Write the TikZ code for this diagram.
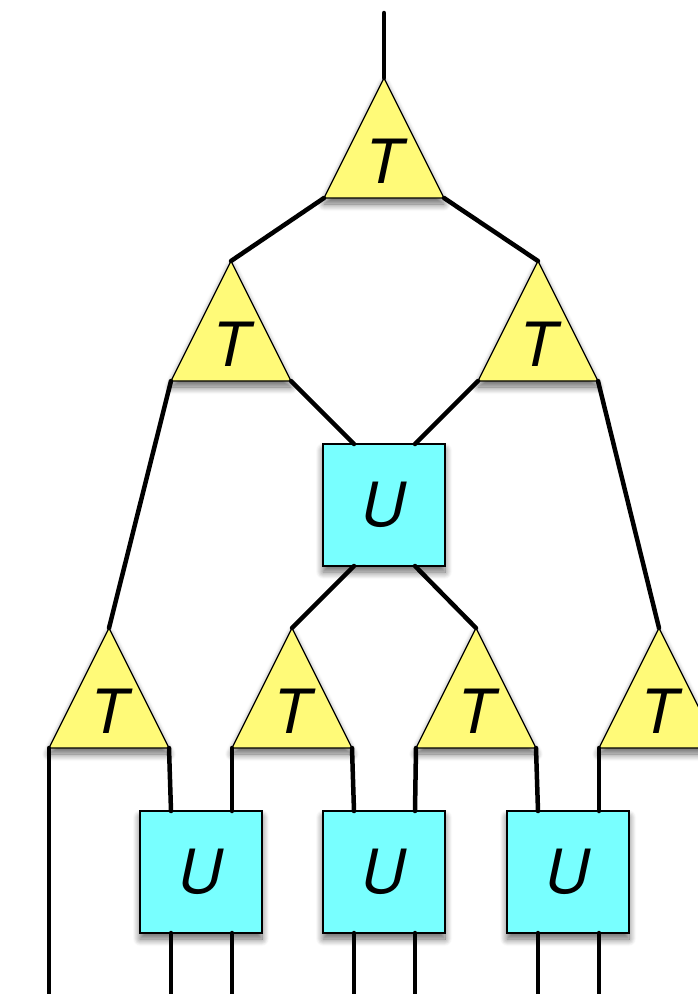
\documentclass[tikz,border=0pt]{standalone}
\usepackage{fontspec}
\setsansfont{TeX Gyre Heros}
\usetikzlibrary{shadows.blur}
\definecolor{tyellow}{RGB}{255,250,120}
\definecolor{ucyan}{RGB}{120,255,255}
\tikzset{
  shad/.style={blur shadow={shadow xshift=0pt, shadow yshift=-6pt, shadow blur steps=10, shadow blur radius=7pt, shadow opacity=60}},
  tri/.style={fill=tyellow, draw=black, line width=1.3pt, line join=miter, shad},
  ubox/.style={fill=ucyan, draw=black, line width=1.4pt, minimum width=122pt, minimum height=122pt, inner sep=0pt, shad, font=\sffamily\itshape\fontsize{61}{61}\selectfont},
  lab/.style={font=\sffamily\itshape\fontsize{61}{61}\selectfont, inner sep=0pt, anchor=base},
  wire/.style={line width=4.5pt, line cap=round, line join=round}
}
\newcommand\MkTri[3]{%
  \path[tri] (#2,#3) coordinate (#1a) -- ++(60,120) coordinate (#1r) -- ++(-120,0) coordinate (#1l) -- cycle;
  \node[lab] (#1) at (#2,#3+105) {T};
}
\newcommand\MkU[3]{%
  \node[ubox] (#1) at (#2,#3) {U};
  \coordinate (#1tl) at (#2-30,#3-61);
  \coordinate (#1tr) at (#2+31,#3-61);
  \coordinate (#1bl) at (#2-30,#3+61);
  \coordinate (#1br) at (#2+31,#3+61);
}
\begin{document}
\begin{tikzpicture}[x=1pt,y=-1pt]
\useasboundingbox (0,0) rectangle (697,994);
% shapes
\MkTri{ta}{384}{78}
\MkTri{tb}{231}{261}
\MkTri{tc}{538}{261}
\MkTri{td}{109}{628}
\MkTri{te}{292}{628}
\MkTri{tf}{476}{628}
\MkTri{tg}{659}{628}
\MkU{ua}{384}{505}
\MkU{ub}{201}{872}
\MkU{uc}{384}{872}
\MkU{ud}{568}{872}
% free ends
\coordinate (top) at (384,13);
\coordinate (e1) at (49,1000);
\coordinate (e2) at (171,1000);
\coordinate (e3) at (232,1000);
\coordinate (e4) at (354,1000);
\coordinate (e5) at (415,1000);
\coordinate (e6) at (538,1000);
\coordinate (e7) at (599,1000);
% wires
\draw[wire] (top) -- (taa);
\draw[wire] (tal) -- (tba);
\draw[wire] (tar) -- (tca);
\draw[wire] (tbl) -- (tda);
\draw[wire] (tbr) -- (uatl);
\draw[wire] (tcl) -- (uatr);
\draw[wire] (tcr) -- (tga);
\draw[wire] (uabl) -- (tea);
\draw[wire] (uabr) -- (tfa);
\draw[wire] (tdl) -- (e1);
\draw[wire] (tdr) -- (ubtl);
\draw[wire] (tel) -- (ubtr);
\draw[wire] (ter) -- (uctl);
\draw[wire] (tfl) -- (uctr);
\draw[wire] (tfr) -- (udtl);
\draw[wire] (tgl) -- (udtr);
\draw[wire] (ubbl) -- (e2);
\draw[wire] (ubbr) -- (e3);
\draw[wire] (ucbl) -- (e4);
\draw[wire] (ucbr) -- (e5);
\draw[wire] (udbl) -- (e6);
\draw[wire] (udbr) -- (e7);
\end{tikzpicture}
\end{document}
